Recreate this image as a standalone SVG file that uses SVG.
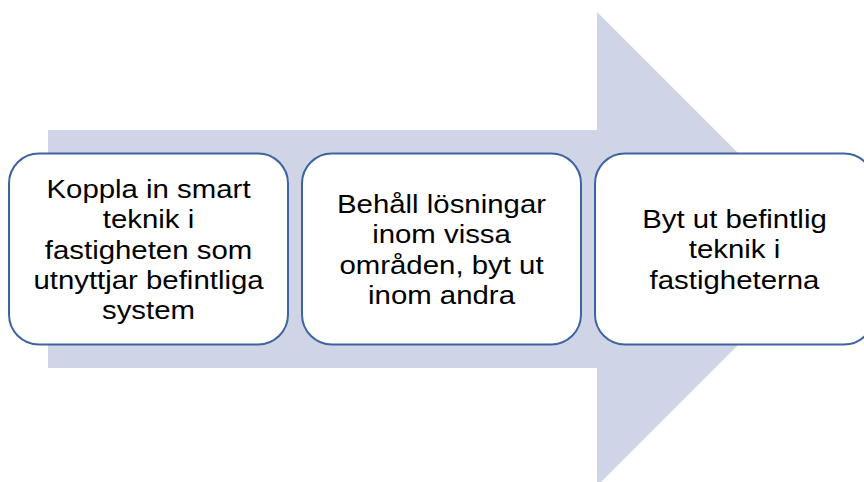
<svg xmlns="http://www.w3.org/2000/svg" width="864" height="482" viewBox="0 0 864 482">
<style>
.box{fill:#ffffff;stroke:#3E64A0;stroke-width:2}
.t{font-family:"Liberation Sans",Arial,sans-serif;font-size:26px;fill:#000000;text-anchor:middle}
</style>
<rect width="864" height="482" fill="#ffffff"/>
<g id="arrow">
<polygon points="48,130 597,130 597,12 834,249 597,486 597,368 48,368" fill="#CFD5E6"/>
</g>
<g id="connectors"></g>
<g id="node1">
<rect class="box" x="9" y="153.5" width="279" height="191" rx="30" ry="30"/>
<text class="t" transform="translate(148.5,0) scale(1.13,1)"><tspan x="0" y="198">Koppla in smart</tspan><tspan x="0" y="228.3">teknik i</tspan><tspan x="0" y="258.6">fastigheten som</tspan><tspan x="0" y="288.9">utnyttjar befintliga</tspan><tspan x="0" y="319.2">system</tspan></text>
</g>
<g id="node2">
<rect class="box" x="302" y="153.5" width="279" height="191" rx="30" ry="30"/>
<text class="t" transform="translate(441.5,0) scale(1.13,1)"><tspan x="0" y="213">Behåll lösningar</tspan><tspan x="0" y="243.3">inom vissa</tspan><tspan x="0" y="273.6">områden, byt ut</tspan><tspan x="0" y="303.9">inom andra</tspan></text>
</g>
<g id="node3">
<rect class="box" x="595" y="153.5" width="279" height="191" rx="30" ry="30"/>
<text class="t" transform="translate(734.5,0) scale(1.13,1)"><tspan x="0" y="228">Byt ut befintlig</tspan><tspan x="0" y="258.3">teknik i</tspan><tspan x="0" y="288.6">fastigheterna</tspan></text>
</g>
</svg>
